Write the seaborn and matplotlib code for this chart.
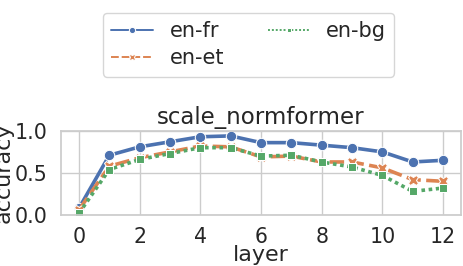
import pandas as pd
import matplotlib.pyplot as plt
import seaborn as sns

# --- data ---
layers = list(range(13))
en_fr = [0.08, 0.71, 0.81, 0.87, 0.93, 0.94, 0.86, 0.86, 0.83, 0.80, 0.75, 0.63, 0.65]
en_et = [0.06, 0.58, 0.68, 0.75, 0.82, 0.81, 0.69, 0.70, 0.63, 0.63, 0.56, 0.42, 0.40]
en_bg = [0.02, 0.54, 0.66, 0.73, 0.80, 0.80, 0.70, 0.71, 0.63, 0.57, 0.47, 0.28, 0.32]

df = pd.DataFrame({
    'layer': layers * 3,
    'accuracy': en_fr + en_et + en_bg,
    'pair': ['en-fr'] * 13 + ['en-et'] * 13 + ['en-bg'] * 13,
})

sns.set_theme(style="whitegrid")

fig = plt.figure(figsize=(4.64, 2.66), dpi=100)
ax = fig.add_axes([0.131, 0.192, 0.863, 0.316])
sns.lineplot(data=df, x='layer', y='accuracy', hue='pair', style='pair',
             markers=True, linewidth=2.6, markersize=7.5, ax=ax)

ax.set_ylim(0, 1.0)
ax.set_yticks([0.0, 0.5, 1.0])
ax.set_xticks([0, 2, 4, 6, 8, 10, 12])
ax.tick_params(labelsize=14.8)
ax.tick_params(axis='x', pad=2.5)
ax.set_xlabel('layer', fontsize=16, labelpad=-1)
ax.set_ylabel('accuracy', fontsize=16, labelpad=1)
ax.set_title('scale_normformer', fontsize=16.5, pad=5)

handles, labels = ax.get_legend_handles_labels()
for h in handles:
    h.set_linewidth(1.4)
    h.set_markersize(4.5)
ax.legend(handles, labels, ncol=2, fontsize=15, loc='upper center',
          bbox_to_anchor=(0.536, 0.992), bbox_transform=fig.transFigure,
          columnspacing=2.1, handlelength=2.0, borderpad=0.4,
          labelspacing=0.35)

fig.savefig('out.png', dpi=100)
